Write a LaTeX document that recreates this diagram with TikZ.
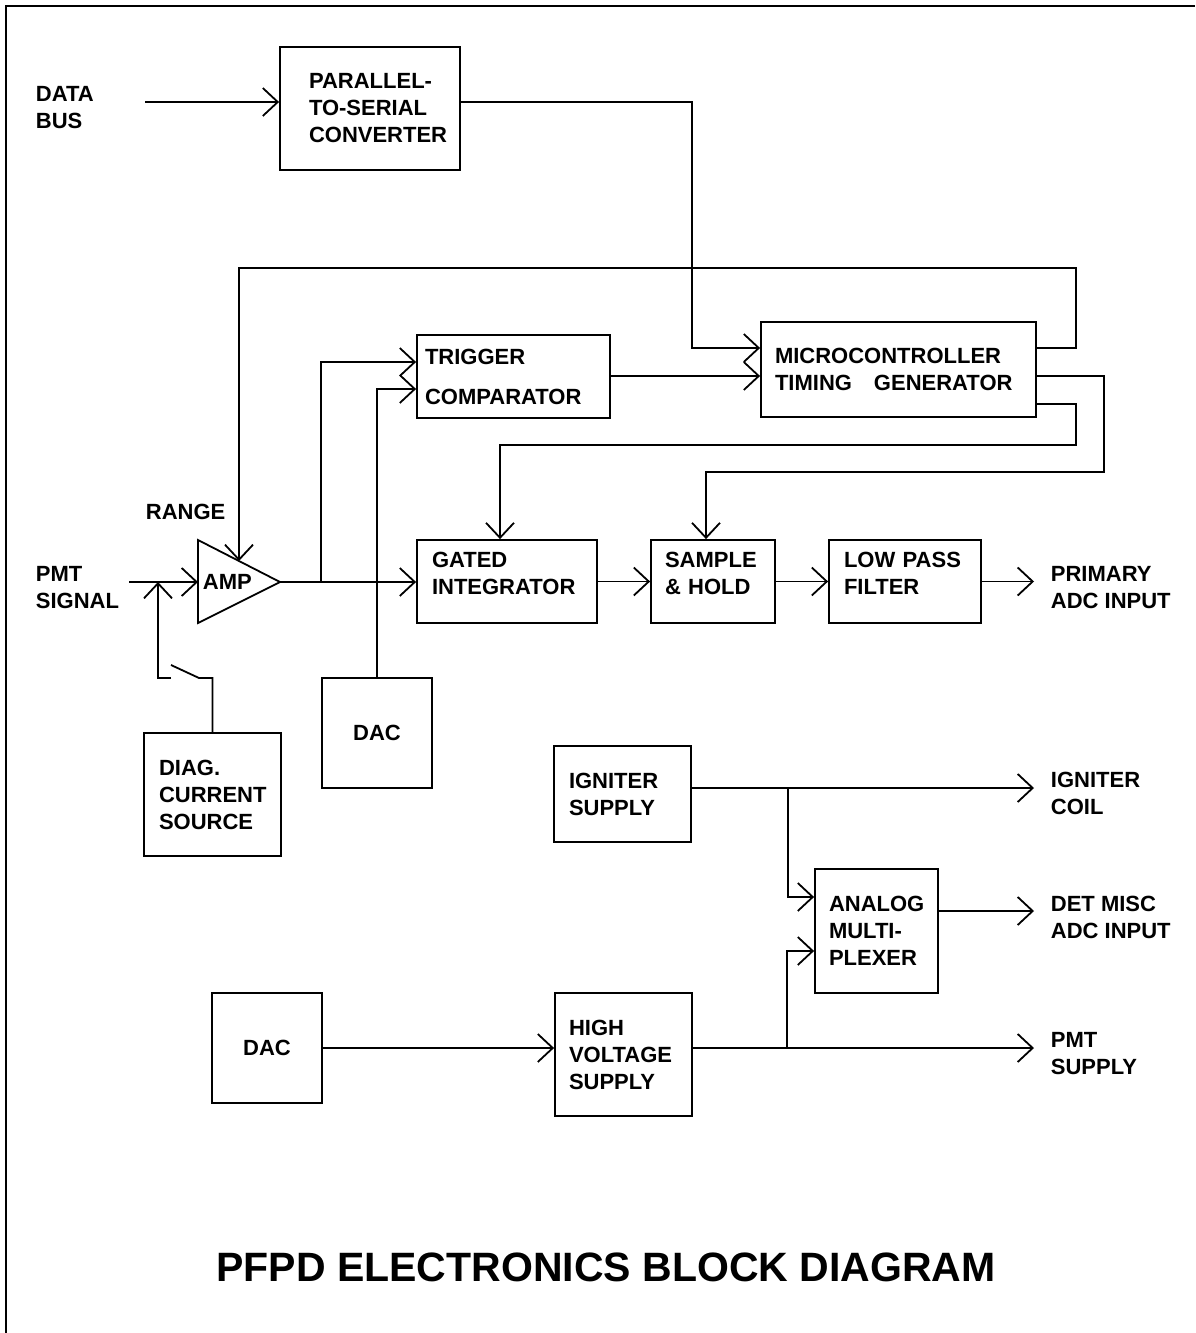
\documentclass[tikz,border=0pt]{standalone}
\usepackage{fontspec}
\setmainfont{Liberation Sans}
\usetikzlibrary{arrows.meta}
\newcommand{\lowpad}{\rule[-16pt]{0pt}{16pt}}

\begin{document}
\begin{tikzpicture}[x=1pt,y=-1pt,>={Straight Barb[length=15pt,width=28pt]},line width=1.8pt,
  font=\fontsize{22}{27}\selectfont\bfseries,
  blk/.style={draw,rectangle,inner sep=0pt,align=left},
  lbl/.style={anchor=west,align=left,inner sep=0pt}]

            \useasboundingbox (0,0) rectangle (1195,1333);
            \draw[line width=2.4pt] (6,1333) -- (6,6) -- (1195,6);

            \node[blk,minimum width=180pt,minimum height=123pt,text width=122pt] (pts) at (370,108.5) {\mbox{PARALLEL-}\\TO-SERIAL\\CONVERTER};
            \node[blk,minimum width=193pt,minimum height=83pt,text width=177pt] (trig) at (513.5,376.5) {TRIGGER\\[13pt]COMPARATOR};
            \node[blk,minimum width=275pt,minimum height=95pt,text width=247pt] (mcu) at (898.5,369.5) {MICROCONTROLLER\\TIMING\ \ \ GENERATOR};
            \node[blk,minimum width=180pt,minimum height=83pt,text width=150pt] (gi) at (507,581.5) {GATED\\INTEGRATOR\lowpad};
            \node[blk,minimum width=124pt,minimum height=83pt,text width=96pt] (sh) at (713,581.5) {SAMPLE\\\& HOLD\lowpad};
            \node[blk,minimum width=152pt,minimum height=83pt,text width=122pt] (lpf) at (905,581.5) {LOW PASS\\FILTER\lowpad};
            \node[blk,minimum width=137pt,minimum height=123pt,text width=107pt] (diag) at (212.5,794.5) {DIAG.\\CURRENT\\SOURCE};
            \node[blk,minimum width=110pt,minimum height=110pt,align=center] (dac1) at (377,733) {DAC};
            \node[blk,minimum width=137pt,minimum height=96pt,text width=107pt] (ign) at (622.5,794) {IGNITER\\SUPPLY};
            \node[blk,minimum width=123pt,minimum height=124pt,text width=95pt] (mux) at (876.5,931) {ANALOG\\MULTI-\\PLEXER};
            \node[blk,minimum width=137pt,minimum height=123pt,text width=109pt] (hv) at (623.5,1054.5) {HIGH\\VOLTAGE\\SUPPLY};
            \node[blk,minimum width=110pt,minimum height=110pt,align=center] (dac2) at (267,1048) {DAC};

            % amplifier
            \coordinate (ampin) at (198,582);
            \coordinate (ampout) at (280,582);
            \coordinate (rngin) at (239,561);
            \draw (198,540) -- (ampout) -- (198,623) -- cycle;
            \node[lbl] (amp) at (202,582) {AMP};

            \node[lbl] (dbus) at (35,108) {DATA\\BUS};
            \node[lbl] (rng) at (145,512) {RANGE};
            \node[lbl] (pmts) at (35,588) {PMT\\SIGNAL};
            \node[lbl] (prim) at (1050,588) {PRIMARY\\ADC INPUT};
            \node[lbl] (coil) at (1050,793.5) {IGNITER\\COIL};
            \node[lbl] (misc) at (1050,917.5) {DET MISC\\ADC INPUT};
            \node[lbl] (pmtsup) at (1050,1053.5) {PMT\\SUPPLY};
            \node[font=\fontsize{41}{49}\selectfont\bfseries] (title) at (606,1267) {PFPD ELECTRONICS BLOCK DIAGRAM};

            \coordinate (busin) at (145,102);
            \coordinate (k1) at (692,348);
            \coordinate (t1) at (0,376);
            \coordinate (pmtin) at (129,582);
            \coordinate (ic) at (1034,788);
            \coordinate (mo) at (1034,911);
            \coordinate (ps) at (1034,1048);

            \draw[->] (busin) to (busin -| pts.west);
            \draw[->] (pts.east |- busin) -| (k1) -- (k1 -| mcu.west);
            \draw[->] (trig.east |- t1) -- (t1 -| mcu.west);
            \draw[->] (mcu.east |- k1) -| (1076,268) -| (rngin);
            \draw[->] (mcu.east |- t1) -| (1104,472) -| (706,0 |- sh.north);
            \draw[->] (mcu.east |- 0,404) -| (1076,445) -| (500,0 |- gi.north);

            \draw[->] (ampout) to (ampout -| gi.west);
            \draw[->] (ampout -| 321,0) |- (trig.west |- 0,362);
            \draw[->] (dac1.north) |- (trig.west |- 0,389);
            \draw[->] (pmtin) to (ampin);
            \draw (diag.north) |- (199,678) -- (171,665);
            \draw[->] (171,678) -| (pmtin -| 158,0);

            \draw[->] (gi.east) to (sh.west);
            \draw[->] (sh.east) to (lpf.west);
            \draw[->] (lpf.east) to (lpf.east -| ic);

            \draw[->] (ign.east |- ic) to (ic);
            \draw[->] (788,788) |- (mux.west |- 0,897);
            \draw[->] (mux.east |- mo) to (mo);
            \draw[->] (hv.east |- ps) to (ps);
            \draw[->] (787,1048) |- (mux.west |- 0,951);
            \draw[->] (dac2.east) to (dac2.east -| hv.west);

            ;
        \end{tikzpicture}
\end{document}
